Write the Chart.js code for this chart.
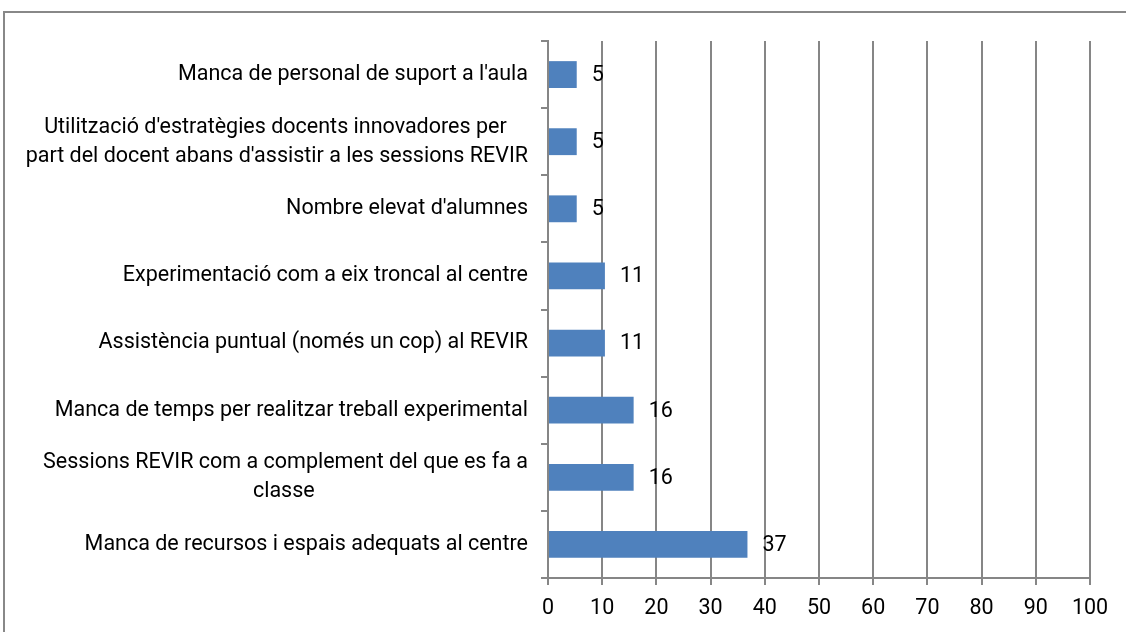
<!DOCTYPE html>
<html>
<head>
<meta charset="utf-8">
<script src="https://cdn.jsdelivr.net/npm/chart.js@4"></script>
<style>
  html, body { margin: 0; padding: 0; background: #fff; overflow: hidden; }
  #wrap { position: relative; width: 1126px; height: 632px; }
  #frame { position: absolute; left: 3px; top: 11px; width: 1200px; height: 700px; border: 2px solid #888; box-sizing: border-box; pointer-events: none; }
  canvas { position: absolute; left: 0; top: 0; }
</style>
</head>
<body>
<div id="wrap">
  <canvas id="chart" width="1126" height="632"></canvas>
  <div id="frame"></div>
</div>
<script>
// categories, top to bottom
const categories = [
    "Manca de personal de suport a l'aula",
    ["Utilització d'estratègies docents innovadores per", "part del docent abans d'assistir a les sessions REVIR"],
    "Nombre elevat d'alumnes",
    "Experimentació com a eix troncal al centre",
    "Assistència puntual (només un cop) al REVIR",
    "Manca de temps per realitzar treball experimental",
    ["Sessions REVIR com a complement del que es fa a", "classe"],
    "Manca de recursos i espais adequats al centre"
];
const values = [5.3, 5.3, 5.3, 10.5, 10.5, 15.8, 15.8, 36.8];
const xTicks = [0, 10, 20, 30, 40, 50, 60, 70, 80, 90, 100];

const FONT = 'Roboto';
const FSIZE = 21.5;
const GRAY = '#868686';

// centre the lines of a multi-line label on each other (right-aligned block)
function centreLines(ctx, lines) {
    ctx.save();
    ctx.font = FSIZE + 'px ' + FONT;
    const widths = lines.map(l => ctx.measureText(l).width);
    const maxW = Math.max(...widths);
    const sp = ctx.measureText(' ').width;
    const out = lines.map((l, i) => {
        const n = Math.round((maxW - widths[i]) / 2 / sp);
        return l + ' '.repeat(n);
    });
    ctx.restore();
    return out;
}

const valueLabels = {
    id: 'valueLabels',
    afterDatasetsDraw(chart) {
        const c = chart.ctx;
        const meta = chart.getDatasetMeta(0);
        c.save();
        c.font = FSIZE + 'px ' + FONT;
        c.fillStyle = '#000';
        c.textAlign = 'left';
        c.textBaseline = 'middle';
        meta.data.forEach((bar, i) => {
            c.fillText(String(Math.round(values[i])), bar.x + 15, bar.y + 1);
        });
        c.restore();
    }
};

const ctx = document.getElementById('chart').getContext('2d');
new Chart(ctx, {
    type: 'bar',
    data: {
        labels: categories,
        datasets: [{
            data: values,
            backgroundColor: '#4F81BD',
            borderWidth: 0,
            categoryPercentage: 1,
            barPercentage: 0.4
        }]
    },
    options: {
        indexAxis: 'y',
        responsive: false,
        animation: false,
        layout: { padding: { top: 41, right: 36, left: 0, bottom: 0 } },
        plugins: {
            legend: { display: false },
            tooltip: { enabled: false }
        },
        scales: {
            x: {
                min: 0,
                max: 100,
                afterBuildTicks: s => { s.ticks = xTicks.map(v => ({ value: v })); },
                afterFit: s => { s.height = 54; },
                grid: { color: GRAY, lineWidth: 2, drawTicks: true, tickLength: 7, tickColor: GRAY },
                border: { color: GRAY, width: 2 },
                ticks: { color: '#000', font: { family: FONT, size: FSIZE }, padding: 11, maxRotation: 0 }
            },
            y: {
                afterFit: s => { s.width = 548; },
                grid: { offset: true, drawOnChartArea: false, drawTicks: true, tickLength: 7, color: GRAY, lineWidth: 2 },
                border: { color: GRAY, width: 2 },
                ticks: {
                    color: '#000',
                    font: { family: FONT, size: FSIZE, lineHeight: 1.35 },
                    padding: 13,
                    autoSkip: false,
                    callback: function (v) {
                        const l = categories[v];
                        return Array.isArray(l) ? centreLines(this.ctx, l) : l;
                    }
                }
            }
        }
    },
    plugins: [valueLabels]
});
</script>
</body>
</html>
